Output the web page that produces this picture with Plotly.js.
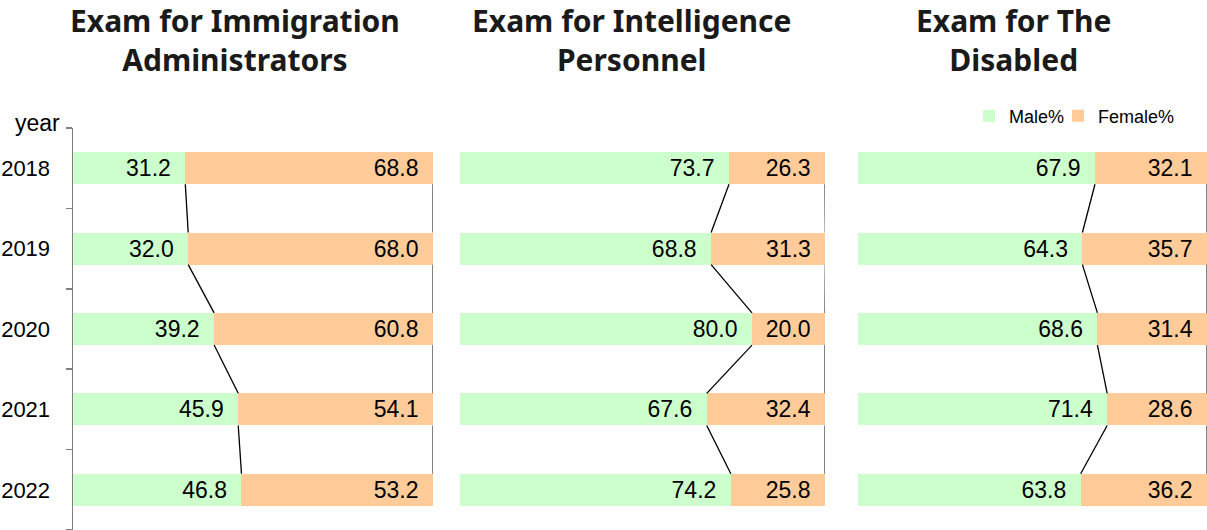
<!DOCTYPE html>
<html>
<head>
<meta charset="utf-8">
<script src="https://cdn.plot.ly/plotly-3.0.1.min.js"></script>
<style>html,body{margin:0;padding:0;background:#fff;}#chart{width:1207px;height:530px;}</style>
</head>
<body>
<div id="chart"></div>
<script>
const years = ["2018", "2019", "2020", "2021", "2022"];
const panelTitles = ["Exam for Immigration<br>Administrators", "Exam for Intelligence<br>Personnel", "Exam for The<br>Disabled"];
const immigrationMale = [31.2, 32.0, 39.2, 45.9, 46.8];
const immigrationFemale = [68.8, 68.0, 60.8, 54.1, 53.2];
const intelligenceMale = [73.7, 68.8, 80.0, 67.6, 74.2];
const intelligenceFemale = [26.3, 31.3, 20.0, 32.4, 25.8];
const disabledMale = [67.9, 64.3, 68.6, 71.4, 63.8];
const disabledFemale = [32.1, 35.7, 31.4, 28.6, 36.2];

const panels = [
  {male: immigrationMale, female: immigrationFemale},
  {male: intelligenceMale, female: intelligenceFemale},
  {male: disabledMale, female: disabledFemale}
];

const NARROW = '"Liberation Sans", Arial, sans-serif';
const GREEN = '#CCFFCC';
const ORANGE = '#FFCC99';
const BARW = 0.4;
const pos = years.map((_, i) => i);

const traces = [];
panels.forEach((p, k) => {
  const xa = k === 0 ? 'x' : 'x' + (k + 1);
  const ya = k === 0 ? 'y' : 'y' + (k + 1);
  traces.push({
    type: 'bar', orientation: 'h', name: 'Male%', x: p.male, y: pos,
    xaxis: xa, yaxis: ya, width: BARW,
    marker: {color: GREEN, line: {width: 0}},
    text: p.male.map(v => v.toFixed(1) + '\u2002'),
    textposition: 'inside', insidetextanchor: 'end', textangle: 0,
    insidetextfont: {family: NARROW, size: 23, color: '#000'},
    showlegend: k === 0, legendrank: 1, legendwidth: 44, hoverinfo: 'skip'
  });
  traces.push({
    type: 'bar', orientation: 'h', name: 'Female%', x: p.female, y: pos,
    xaxis: xa, yaxis: ya, width: BARW,
    marker: {color: ORANGE, line: {width: 0}},
    text: p.female.map(v => v.toFixed(1) + '\u2002'),
    textposition: 'inside', insidetextanchor: 'end', textangle: 0,
    insidetextfont: {family: NARROW, size: 23, color: '#000'},
    showlegend: k === 0, legendrank: 2, hoverinfo: 'skip'
  });
  // series lines (connectors)
  const lx = [], ly = [], rx = [], ry = [];
  for (let i = 0; i < years.length - 1; i++) {
    lx.push(p.male[i], p.male[i + 1], null);
    ly.push(i + BARW / 2, i + 1 - BARW / 2, null);
    rx.push(p.male[i] + p.female[i], p.male[i + 1] + p.female[i + 1], null);
    ry.push(i + BARW / 2, i + 1 - BARW / 2, null);
  }
  traces.push({type: 'scatter', mode: 'lines', x: lx, y: ly, xaxis: xa, yaxis: ya,
    line: {color: '#000', width: 1.3}, showlegend: false, hoverinfo: 'skip', cliponaxis: false});
  traces.push({type: 'scatter', mode: 'lines', x: rx, y: ry, xaxis: xa, yaxis: ya,
    line: {color: '#595959', width: 1.5}, showlegend: false, hoverinfo: 'skip', cliponaxis: false});
});

const domains = [[73 / 1207, 433 / 1207], [460 / 1207, 825 / 1207], [858 / 1207, 1]];
const layout = {
  width: 1207, height: 530,
  margin: {l: 0, r: 0, t: 128, b: 0, autoexpand: false},
  paper_bgcolor: '#fff', plot_bgcolor: '#fff',
  barmode: 'stack', bargap: 0.6,
  uniformtext: {mode: 'show', minsize: 23},
  showlegend: true,
  legend: {orientation: 'h', x: 969 / 1207, xanchor: 'left', y: 1.03, yanchor: 'middle',
    font: {family: NARROW, size: 18, color: '#000'}, traceorder: 'normal',
    bgcolor: 'rgba(0,0,0,0)', itemwidth: 30},
  annotations: [],
  font: {family: NARROW, color: '#000'}
};
const titleX = [0.45, 0.47, 0.445];
domains.forEach((d, k) => {
  const sx = k === 0 ? '' : String(k + 1);
  layout['xaxis' + sx] = {domain: d, range: [0, 100], visible: false, fixedrange: true};
  layout['yaxis' + sx] = {
    anchor: 'x' + sx, range: [4.5, -0.5], autorange: false,
    tickvals: pos, ticktext: k === 0 ? years : years.map(() => ''),
    showticklabels: k === 0, ticks: '', showgrid: false, zeroline: false,
    showline: k === 0, linecolor: '#808080', linewidth: 1.5,
    ticklabelstandoff: 17,
    tickfont: {family: NARROW, size: 22, color: '#000'},
    minor: k === 0 ? {tick0: 0.5, dtick: 1, ticks: 'outside', ticklen: 6, tickcolor: '#808080', tickwidth: 1.5, showgrid: false} : {ticks: '', showgrid: false}
  };
  layout.annotations.push({
    text: '<b>' + panelTitles[k].replace('<br>', '</b><br><b>') + '</b>',
    xref: 'x' + sx + ' domain', x: titleX[k], xanchor: 'center',
    yref: 'paper', y: 1, yanchor: 'bottom', yshift: 46,
    showarrow: false, align: 'center',
    font: {family: '"Noto Sans", "Open Sans", sans-serif', size: 30, color: '#1a1a1a'}
  });
});
layout.annotations.push({
  text: 'year', xref: 'paper', x: 62 / 1207, xanchor: 'right',
  yref: 'paper', y: 1, yanchor: 'middle', yshift: 5, showarrow: false,
  font: {family: NARROW, size: 23, color: '#000'}
});

Plotly.newPlot('chart', traces, layout, {displayModeBar: false, staticPlot: true});
</script>
</body>
</html>
